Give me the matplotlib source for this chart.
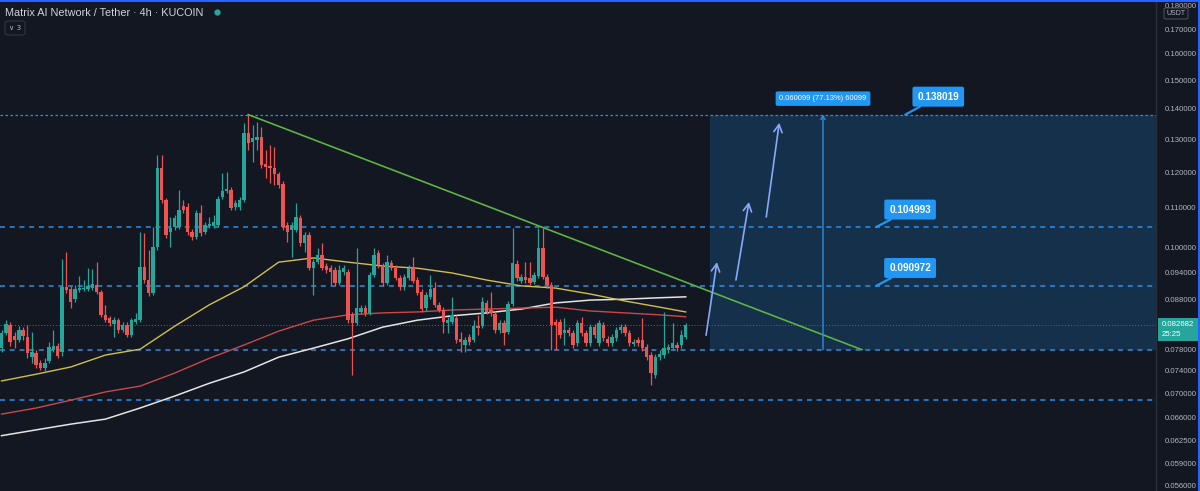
import matplotlib
matplotlib.use('Agg')
import matplotlib.pyplot as plt
import numpy as np
from matplotlib.patches import Rectangle, FancyBboxPatch
from matplotlib.lines import Line2D
from matplotlib.ticker import NullLocator, FixedLocator, FixedFormatter

plt.rcParams['lines.scale_dashes'] = False
plt.rcParams['font.family'] = ['Liberation Sans', 'DejaVu Sans']

# ---------------- data (MATRIX/USDT 4h candles) ----------------
opens = [
    .0782, .0811, .0827, .0805, .0798, .0817, .0804, .0765, .0773, .0754,
    .0745, .0758, .0779, .0786, .0775, .0908, .0903, .0881, .0901, .0903,
    .0903, .0905, .0912, .0896, .0848, .0842, .0829, .0837, .0817, .0827,
    .0807, .0833, .0837, .0953, .0923, .0894, .1000, .1212, .1121, .1037,
    .1050, .1050, .1105, .1103, .1037, .1025, .1087, .1037, .1053, .1053,
    .1055, .1130, .1146, .1149, .1103, .1103, .1121, .1320, .1291, .1298,
    .1307, .1224, .1218, .1212, .1195, .1166, .1055, .1042, .1042, .1073,
    .1010, .1030, .0950, .0964, .0981, .0955, .0950, .0946, .0916, .0941,
    .0941, .0848, .0831, .0854, .0862, .0852, .0934, .0986, .0955, .0916,
    .0962, .0950, .0928, .0908, .0928, .0950, .0923, .0896, .0862, .0886,
    .0905, .0869, .0858, .0831, .0833, .0842, .0800, .0788, .0804, .0798,
    .0825, .0825, .0873, .0858, .0850, .0817, .0831, .0813, .0871, .0960,
    .0921, .0930, .0928, .0919, .0932, .0998, .0930, .0912, .0833, .0833,
    .0811, .0817, .0811, .0792, .0831, .0811, .0792, .0823, .0792, .0827,
    .0800, .0792, .0802, .0817, .0823, .0811, .0790, .0798, .0798, .0784,
    .0769, .0733, .0765, .0769, .0779, .0782, .0788, .0788, .0804,
]
highs = [
    .0817, .0837, .0833, .0813, .0825, .0823, .0827, .0813, .0779, .0760,
    .0763, .0794, .0817, .0792, .0971, .0988, .0910, .0912, .0932, .0923,
    .0950, .0948, .0964, .0901, .0869, .0846, .0844, .0842, .0833, .0833,
    .0842, .0852, .1037, .1035, .0993, .1050, .1251, .1251, .1127, .1076,
    .1081, .1149, .1121, .1113, .1045, .1094, .1108, .1063, .1076, .1081,
    .1132, .1198, .1201, .1157, .1121, .1130, .1353, .1382, .1346, .1356,
    .1339, .1267, .1282, .1276, .1201, .1175, .1063, .1063, .1113, .1081,
    .1037, .1037, .0971, .0998, .1010, .0962, .0957, .0953, .0957, .0957,
    .0948, .0854, .0998, .0869, .0869, .0941, .0998, .0993, .0962, .0981,
    .0969, .0957, .0934, .0937, .0957, .0976, .0930, .0903, .0896, .0934,
    .0919, .0875, .0864, .0844, .0886, .0848, .0813, .0804, .0809, .0837,
    .0848, .0886, .0879, .0896, .0856, .0837, .0837, .0877, .1048, .0969,
    .0937, .0964, .0964, .0941, .1048, .1048, .0937, .0919, .0840, .0840,
    .0842, .0823, .0817, .0837, .0844, .0817, .0829, .0829, .0837, .0833,
    .0805, .0809, .0823, .0829, .0829, .0817, .0800, .0804, .0842, .0790,
    .0775, .0771, .0779, .0854, .0790, .0831, .0794, .0817, .0831,
]
lows = [
    .0775, .0807, .0786, .0782, .0794, .0798, .0763, .0754, .0745, .0742,
    .0740, .0754, .0775, .0763, .0767, .0894, .0862, .0875, .0896, .0899,
    .0899, .0901, .0892, .0844, .0833, .0825, .0804, .0811, .0813, .0804,
    .0804, .0829, .0833, .0916, .0888, .0890, .0993, .1113, .1022, .1000,
    .1042, .1045, .1087, .1030, .1017, .1020, .1027, .1032, .1048, .1048,
    .1050, .1124, .1141, .1094, .1094, .1094, .1116, .1267, .1230, .1267,
    .1212, .1183, .1169, .1163, .1155, .1042, .1013, .0976, .1037, .1003,
    .0988, .0946, .0890, .0960, .0946, .0939, .0912, .0910, .0912, .0934,
    .0831, .0733, .0827, .0850, .0846, .0848, .0930, .0950, .0910, .0912,
    .0946, .0923, .0901, .0901, .0923, .0916, .0890, .0854, .0856, .0881,
    .0864, .0854, .0811, .0811, .0829, .0792, .0775, .0775, .0788, .0794,
    .0807, .0821, .0850, .0846, .0811, .0811, .0788, .0809, .0866, .0921,
    .0916, .0916, .0912, .0914, .0928, .0925, .0905, .0779, .0779, .0802,
    .0788, .0805, .0782, .0786, .0805, .0786, .0786, .0802, .0786, .0796,
    .0786, .0786, .0796, .0811, .0805, .0786, .0786, .0786, .0777, .0760,
    .0715, .0727, .0760, .0763, .0773, .0779, .0777, .0782, .0800,
]
closes = [
    .0811, .0829, .0794, .0798, .0817, .0805, .0773, .0775, .0751, .0745,
    .0754, .0784, .0786, .0767, .0908, .0901, .0875, .0903, .0905, .0905,
    .0910, .0914, .0896, .0848, .0837, .0831, .0837, .0817, .0827, .0807,
    .0837, .0840, .0953, .0923, .0894, .1000, .1212, .1121, .1030, .1048,
    .1073, .1094, .1094, .1037, .1025, .1087, .1035, .1055, .1058, .1063,
    .1124, .1146, .1152, .1100, .1113, .1121, .1320, .1288, .1304, .1307,
    .1221, .1215, .1212, .1195, .1163, .1050, .1037, .1055, .1076, .1010,
    .1030, .0950, .0964, .0981, .0950, .0946, .0941, .0916, .0946, .0950,
    .0837, .0831, .0862, .0862, .0852, .0934, .0981, .0957, .0916, .0964,
    .0950, .0928, .0908, .0930, .0950, .0921, .0894, .0860, .0890, .0903,
    .0869, .0858, .0833, .0837, .0848, .0798, .0794, .0798, .0794, .0825,
    .0821, .0875, .0854, .0852, .0817, .0831, .0811, .0871, .0962, .0928,
    .0930, .0923, .0916, .0934, .0998, .0930, .0912, .0827, .0827, .0807,
    .0817, .0811, .0788, .0831, .0811, .0792, .0823, .0807, .0831, .0802,
    .0792, .0804, .0817, .0823, .0811, .0792, .0794, .0792, .0782, .0765,
    .0736, .0765, .0771, .0782, .0784, .0792, .0782, .0807, .08268,
]

# moving averages sampled at candle indices
ma_index = [0, 8, 16, 24, 32, 40, 48, 56, 64, 72, 80, 88, 96, 104, 112, 120, 128, 136, 144, 152, 158]
ma_yellow = [.0722, .0734, .0747, .0769, .0780, .0825, .0869, .0908, .0964, .0974, .0964,
             .0955, .0950, .0939, .0923, .0910, .0905, .0892, .0877, .0864, .0854]
ma_red = [.0666, .0676, .0689, .0703, .0713, .0736, .0763, .0788, .0815, .0837, .0848,
          .0852, .0854, .0858, .0860, .0862, .0864, .0856, .0852, .0848, .0844]
ma_white = [.0632, .0641, .0650, .0658, .0676, .0696, .0718, .0738, .0765, .0782, .0800,
            .0823, .0837, .0846, .0852, .0860, .0873, .0879, .0881, .0884, .0886]

# horizontal levels
level_top = 0.138019
levels_dashed = [0.104993, 0.090972, 0.0779, 0.0689]
callout_levels = [0.138019, 0.104993, 0.090972]
last_price = 0.082682
last_price_text = "0.082682"
countdown_text = "25:25"

# drawings
trend_start = (57, 0.138019)
trend_end = (198.7, 0.0779)
range_bottom = 0.0779
range_top = 0.138019
range_left = 163.6
range_mid = 189.7
range_label = "0.060099 (77.13%) 60099"
arrow_starts = [(162.7, 0.0807), (169.6, 0.0923), (176.6, 0.1076)]
arrow_ends = [(165.2, 0.0964), (172.6, 0.1116), (179.6, 0.1353)]

price_ticks = [0.18, 0.17, 0.16, 0.15, 0.14, 0.13, 0.12, 0.11, 0.10, 0.094, 0.088,
               0.078, 0.074, 0.070, 0.066, 0.0625, 0.059, 0.056]

title_text = "Matrix AI Network / Tether · 4h · KUCOIN"

# ---------------- figure ----------------
W, H = 1200, 491
BG = '#131722'
fig = plt.figure(figsize=(W / 100, H / 100), dpi=100)
fig.patch.set_facecolor(BG)
ax = fig.add_axes([0, 0, 1156 / W, 1])
ax.set_facecolor(BG)
ax.set_yscale('log')
ax.set_ylim(0.05524, 0.18243)
ax.set_xlim(-0.35, 266.6)
XR = ax.get_xlim()[1]

for name, s in ax.spines.items():
    s.set_visible(name == 'right')
ax.spines['right'].set_color('#2a2e39')
ax.spines['right'].set_linewidth(1)
ax.set_xticks([])
ax.yaxis.tick_right()
ax.yaxis.set_major_locator(FixedLocator(price_ticks))
ax.yaxis.set_major_formatter(FixedFormatter([f'{t:.6f}' for t in price_ticks]))
ax.yaxis.set_minor_locator(NullLocator())
ax.tick_params(axis='y', length=0, pad=6, labelsize=5.6, labelcolor='#b2b5be')

# range box (behind everything)
ax.add_patch(Rectangle((range_left, range_bottom), XR - range_left, range_top - range_bottom,
                       facecolor=(33 / 255, 150 / 255, 243 / 255, 0.2), edgecolor='none', zorder=1))

# horizontal levels
ax.axhline(level_top, color='#2a8fe8', lw=0.9, dashes=(1.8, 1.8), zorder=2)
for lv in levels_dashed:
    ax.axhline(lv, color='#2a8fe8', lw=1.1, dashes=(3.6, 3.4), zorder=2)
ax.axhline(last_price, color='#3f7a74', lw=0.7, dashes=(0.7, 1.4), zorder=2)

# moving averages
ax.plot(ma_index, ma_white, color='#e4e4e4', lw=1.1, zorder=3)
ax.plot(ma_index, ma_red, color='#c9484a', lw=1.0, zorder=3)
ax.plot(ma_index, ma_yellow, color='#cfc04c', lw=1.0, zorder=3)

# candles
o = np.array(opens); c = np.array(closes); hi = np.array(highs); lo = np.array(lows)
idx = np.arange(len(o))
up = c >= o
cols = np.where(up, '#26a69a', '#ef5350')
ax.vlines(idx, lo, hi, colors=cols, lw=0.9, zorder=4)
bot = np.minimum(o, c)
top = np.maximum(o, c)
height = np.maximum(top - bot, bot * 0.003)
ax.bar(idx, height, bottom=bot, width=0.78, color=cols, linewidth=0, zorder=5)

# trend line
ax.plot([trend_start[0], trend_end[0]], [trend_start[1], trend_end[1]], color='#5cb244', lw=1.2, zorder=6)

# range measure vertical line with arrow
ax.annotate('', xy=(range_mid, range_top), xytext=(range_mid, range_bottom),
            arrowprops=dict(arrowstyle='->,head_length=0.25,head_width=0.15', color='#2b8de0', lw=1.0,
                            shrinkA=0, shrinkB=0), zorder=6)
ax.annotate(range_label, xy=(range_mid, range_top), xytext=(0, 16), textcoords='offset pixels',
            ha='center', va='center', fontsize=5.4, color='white',
            bbox=dict(boxstyle='round,pad=0.5,rounding_size=0.25', fc='#2196f3', ec='none'), zorder=7)

# hand-drawn arrows
for (s, e) in zip(arrow_starts, arrow_ends):
    ax.annotate('', xy=e, xytext=s,
                arrowprops=dict(arrowstyle='->,head_length=0.55,head_width=0.3', color='#88a8fa', lw=1.2,
                                shrinkA=0, shrinkB=0), zorder=7)

# callouts
callout_x = [208.7, 201.96, 201.96]
callout_off = [(33, 18), (34, 17.5), (34, 18)]
for lv, cx, off in zip(callout_levels, callout_x, callout_off):
    ax.annotate(f'{lv:.6f}', xy=(cx, lv), xytext=off, textcoords='offset pixels',
                ha='center', va='center', fontsize=7.2, color='white', fontweight='bold',
                bbox=dict(boxstyle='round,pad=0.5,rounding_size=0.2', fc='#2196f3', ec='none'),
                arrowprops=dict(arrowstyle='-', color='#2196f3', lw=1.6, shrinkA=0, shrinkB=0),
                zorder=8)

# ---------------- overlay texts in figure pixels ----------------
def fx(px):
    return px / W

def fy(py):
    return 1 - py / H

fig.text(fx(5), fy(12.5), title_text, color='#d1d4dc', fontsize=7.8, va='center', ha='left',
         family=['Liberation Sans', 'DejaVu Sans'])
fig.add_artist(Line2D([fx(217)], [fy(12)], marker='o', ms=4.5, color='#22ab94',
                      markeredgewidth=0, transform=fig.transFigure))
fig.add_artist(FancyBboxPatch((fx(5), fy(35)), fx(20), 14 / H,
                              boxstyle='round,pad=0,rounding_size=0.003', fc=BG, ec='#363a45', lw=0.7,
                              transform=fig.transFigure))
fig.text(fx(15), fy(28), '∨ 3', color='#b2b5be', fontsize=5.2, ha='center', va='center',
         family=['DejaVu Sans'])

# USDT box
fig.add_artist(FancyBboxPatch((fx(1164), fy(19)), fx(24), 11 / H,
                              boxstyle='round,pad=0,rounding_size=0.002', fc=BG, ec='#50535e', lw=0.7,
                              transform=fig.transFigure, zorder=9))
fig.text(fx(1176), fy(13.5), 'USDT', color='#b2b5be', fontsize=5.0, ha='center', va='center', zorder=10)

# last price label
fig.add_artist(Rectangle((fx(1157.5), fy(341)), fx(40), 23 / H, fc='#26a69a', ec='none',
                         transform=fig.transFigure, zorder=9))
fig.text(fx(1162), fy(324.5), last_price_text, color='white', fontsize=5.6, ha='left', va='center', zorder=10)
fig.text(fx(1162), fy(335), countdown_text, color='white', fontsize=5.6, ha='left', va='center', zorder=10)

# screenshot frame
fig.add_artist(Rectangle((0, fy(1.5)), 1, 1.5 / H, fc='#2962ff', ec='none', transform=fig.transFigure, zorder=11))
fig.add_artist(Rectangle((fx(1197.5), 0), fx(2.5), 1, fc='#2962ff', ec='none', transform=fig.transFigure, zorder=11))

fig.savefig('out.png', dpi=100, facecolor=fig.get_facecolor())
